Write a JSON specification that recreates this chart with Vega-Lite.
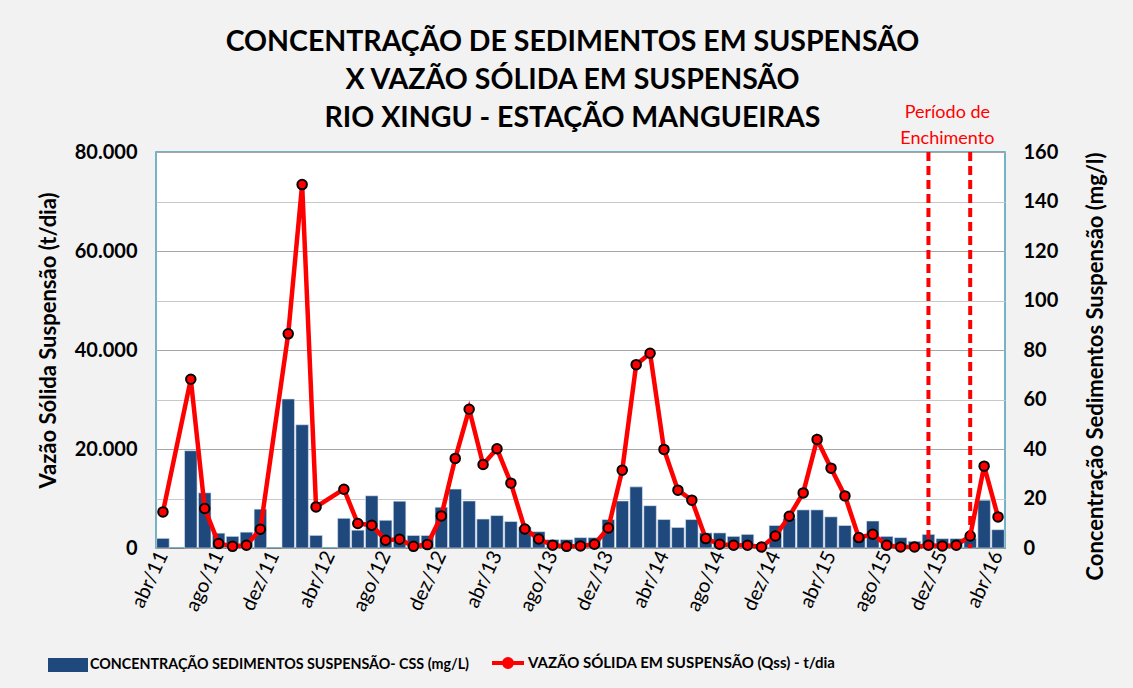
{
  "$schema": "https://vega.github.io/schema/vega-lite/v6.json",
  "width": 849,
  "height": 396,
  "autosize": "none",
  "padding": {"left": 156, "top": 152, "right": 128, "bottom": 140},
  "background": "#F2F2F2",
  "config": {
    "font": "Lato",
    "view": {"fill": "white", "stroke": "#4A9DB5", "strokeWidth": 1.5}
  },
  "title": {
    "text": ["CONCENTRAÇÃO DE SEDIMENTOS EM SUSPENSÃO", "X VAZÃO SÓLIDA EM SUSPENSÃO", "RIO XINGU - ESTAÇÃO MANGUEIRAS"],
    "font": "Lato",
    "fontSize": 28.5,
    "fontWeight": "bold",
    "lineHeight": 38,
    "color": "black",
    "anchor": "middle",
    "offset": -29,
    "dx": -8
  },
  "data": {
    "values": [
      {"m": "abr/11", "css": 3.9, "qss": 7290},
      {"m": "jun/11", "css": 39.3, "qss": 34090},
      {"m": "jul/11", "css": 22.3, "qss": 7980},
      {"m": "ago/11", "css": 6.0, "qss": 890},
      {"m": "set/11", "css": 4.7, "qss": 340},
      {"m": "out/11", "css": 6.4, "qss": 550},
      {"m": "nov/11", "css": 15.7, "qss": 3790},
      {"m": "jan/12", "css": 60.2, "qss": 43260},
      {"m": "fev/12", "css": 49.8, "qss": 73420},
      {"m": "mar/12", "css": 5.1, "qss": 8300},
      {"m": "mai/12", "css": 12.0, "qss": 11880},
      {"m": "jun/12", "css": 7.2, "qss": 4940},
      {"m": "jul/12", "css": 21.1, "qss": 4600},
      {"m": "ago/12", "css": 11.2, "qss": 1560},
      {"m": "set/12", "css": 18.9, "qss": 1760},
      {"m": "out/12", "css": 5.1, "qss": 340},
      {"m": "nov/12", "css": 5.1, "qss": 690},
      {"m": "dez/12", "css": 16.5, "qss": 6480},
      {"m": "jan/13", "css": 23.8, "qss": 18100},
      {"m": "fev/13", "css": 19.0, "qss": 28020},
      {"m": "mar/13", "css": 11.7, "qss": 16880},
      {"m": "abr/13", "css": 13.1, "qss": 20040},
      {"m": "mai/13", "css": 10.7, "qss": 13100},
      {"m": "jun/13", "css": 8.5, "qss": 3850},
      {"m": "jul/13", "css": 6.6, "qss": 1820},
      {"m": "ago/13", "css": 3.4, "qss": 550},
      {"m": "set/13", "css": 3.4, "qss": 340},
      {"m": "out/13", "css": 4.2, "qss": 400},
      {"m": "nov/13", "css": 4.2, "qss": 750},
      {"m": "dez/13", "css": 11.5, "qss": 4050},
      {"m": "jan/14", "css": 19.0, "qss": 15730},
      {"m": "fev/14", "css": 24.7, "qss": 37040},
      {"m": "mar/14", "css": 17.1, "qss": 39350},
      {"m": "abr/14", "css": 11.5, "qss": 19920},
      {"m": "mai/14", "css": 8.3, "qss": 11680},
      {"m": "jun/14", "css": 11.5, "qss": 9660},
      {"m": "jul/14", "css": 6.1, "qss": 1900},
      {"m": "ago/14", "css": 6.1, "qss": 750},
      {"m": "set/14", "css": 4.7, "qss": 550},
      {"m": "out/14", "css": 5.5, "qss": 550},
      {"m": "nov/14", "css": 1.5, "qss": 200},
      {"m": "dez/14", "css": 9.1, "qss": 2430},
      {"m": "jan/15", "css": 12.0, "qss": 6420},
      {"m": "fev/15", "css": 15.4, "qss": 11130},
      {"m": "mar/15", "css": 15.4, "qss": 21940},
      {"m": "abr/15", "css": 12.6, "qss": 16130},
      {"m": "mai/15", "css": 9.1, "qss": 10530},
      {"m": "jun/15", "css": 4.5, "qss": 2100},
      {"m": "jul/15", "css": 10.9, "qss": 2770},
      {"m": "ago/15", "css": 4.7, "qss": 550},
      {"m": "set/15", "css": 4.2, "qss": 200},
      {"m": "out/15", "css": 2.7, "qss": 200},
      {"m": "nov/15", "css": 5.5, "qss": 550},
      {"m": "dez/15", "css": 3.8, "qss": 400},
      {"m": "jan/16", "css": 3.8, "qss": 550},
      {"m": "fev/16", "css": 4.0, "qss": 2430},
      {"m": "mar/16", "css": 19.3, "qss": 16540},
      {"m": "abr/16", "css": 7.4, "qss": 6280}
    ]
  },
  "encoding": {
    "x": {
      "field": "m",
      "type": "ordinal",
      "scale": {
        "domain": ["abr/11","mai/11","jun/11","jul/11","ago/11","set/11","out/11","nov/11","dez/11","jan/12","fev/12","mar/12","abr/12","mai/12","jun/12","jul/12","ago/12","set/12","out/12","nov/12","dez/12","jan/13","fev/13","mar/13","abr/13","mai/13","jun/13","jul/13","ago/13","set/13","out/13","nov/13","dez/13","jan/14","fev/14","mar/14","abr/14","mai/14","jun/14","jul/14","ago/14","set/14","out/14","nov/14","dez/14","jan/15","fev/15","mar/15","abr/15","mai/15","jun/15","jul/15","ago/15","set/15","out/15","nov/15","dez/15","jan/16","fev/16","mar/16","abr/16"],
        "paddingInner": 0.1,
        "paddingOuter": 0.05
      },
      "axis": {
        "title": null,
        "values": ["abr/11","ago/11","dez/11","abr/12","ago/12","dez/12","abr/13","ago/13","dez/13","abr/14","ago/14","dez/14","abr/15","ago/15","dez/15","abr/16"],
        "labelAngle": -65,
        "labelFontSize": 20,
        "labelColor": "black",
        "labelPadding": 4,
        "ticks": false,
        "domain": true,
        "domainColor": "#808080",
        "grid": false
      }
    }
  },
  "layer": [
    {
      "mark": {"type": "bar", "color": "#1F497D", "stroke": "#DCE6F2", "strokeWidth": 0.6},
      "encoding": {
        "y": {
          "field": "css",
          "type": "quantitative",
          "scale": {"domain": [0, 160]},
          "axis": {
            "orient": "right",
            "values": [0, 20, 40, 60, 80, 100, 120, 140, 160],
            "title": "Concentração Sedimentos Suspensão (mg/l)",
            "titleAngle": 270,
            "titleBaseline": "top",
            "titleFontSize": 22,
            "titleFontWeight": "bold",
            "titleColor": "black",
            "titlePadding": 28,
            "titleY": 214,
            "labelFontSize": 20,
            "labelFontWeight": "bold",
            "labelColor": "black",
            "labelPadding": 18,
            "ticks": false,
            "domain": false,
            "grid": true,
            "gridColor": "#C8C8C8",
            "gridWidth": 1.2
          }
        },
        "fill": {
          "datum": "CONCENTRAÇÃO SEDIMENTOS  SUSPENSÃO- CSS (mg/L)",
          "scale": {"range": ["#1F497D"]},
          "legend": {
            "title": null,
            "orient": "none",
            "legendX": -108,
            "legendY": 493,
            "padding": 0,
            "symbolType": "M-1,-0.35L1,-0.35L1,0.35L-1,0.35Z",
            "symbolSize": 1600,
            "symbolStrokeWidth": 0,
            "labelFontSize": 14.3,
            "labelFontWeight": "bold",
            "labelColor": "black",
            "labelOffset": 2,
            "labelLimit": 0
          }
        }
      }
    },
    {
      "mark": {"type": "line", "strokeWidth": 4.5},
      "encoding": {
        "y": {
          "field": "qss",
          "type": "quantitative",
          "scale": {"domain": [0, 80000]},
          "axis": {
            "orient": "left",
            "values": [0, 20000, 40000, 60000, 80000],
            "labelExpr": "replace(format(datum.value, ','), ',', '.')",
            "title": "Vazão Sólida Suspensão (t/dia)",
            "titleFontSize": 22,
            "titleFontWeight": "bold",
            "titleColor": "black",
            "titlePadding": 14,
            "titleY": 188,
            "labelFontSize": 20,
            "labelFontWeight": "bold",
            "labelColor": "black",
            "labelPadding": 19,
            "ticks": false,
            "domain": false,
            "grid": true,
            "gridColor": "#A6A6A6",
            "gridWidth": 1.2
          }
        },
        "stroke": {
          "datum": "VAZÃO SÓLIDA EM SUSPENSÃO (Qss) - t/dia",
          "scale": {"range": ["#FF0000"]},
          "legend": {
            "title": null,
            "orient": "none",
            "legendX": 334,
            "legendY": 493,
            "padding": 0,
            "symbolType": "M-1,0L1,0M-0.25,0A0.25,0.25,0,1,1,0.25,0A0.25,0.25,0,1,1,-0.25,0",
            "symbolSize": 1024,
            "symbolStrokeWidth": 4,
            "symbolFillColor": "#FF0000",
            "labelFontSize": 15,
            "labelFontWeight": "bold",
            "labelColor": "black",
            "labelOffset": 2,
            "labelLimit": 0
          }
        }
      }
    },
    {
      "mark": {"type": "circle", "fill": "#FF0000", "stroke": "#000000", "strokeWidth": 2, "size": 90, "opacity": 1},
      "encoding": {
        "y": {"field": "qss", "type": "quantitative", "scale": {"domain": [0, 80000]}, "axis": null}
      }
    },
    {
      "data": {"values": [{"m": "nov/15"}, {"m": "fev/16"}]},
      "mark": {"type": "rule", "color": "#FF0000", "strokeWidth": 4, "strokeDash": [9, 5]},
      "encoding": {}
    },
    {
      "data": {"values": [{"m": "dez/15", "label": "Período de\nEnchimento"}]},
      "mark": {"type": "text", "color": "#FF0000", "fontSize": 18, "lineBreak": "\n", "lineHeight": 26, "baseline": "middle", "align": "center", "dx": 5, "clip": false},
      "encoding": {
        "y": {"datum": 87879, "type": "quantitative", "scale": {"domain": [0, 80000]}, "axis": null},
        "text": {"field": "label"}
      }
    }
  ],
  "resolve": {"scale": {"y": "independent", "fill": "independent", "stroke": "independent"}}
}
